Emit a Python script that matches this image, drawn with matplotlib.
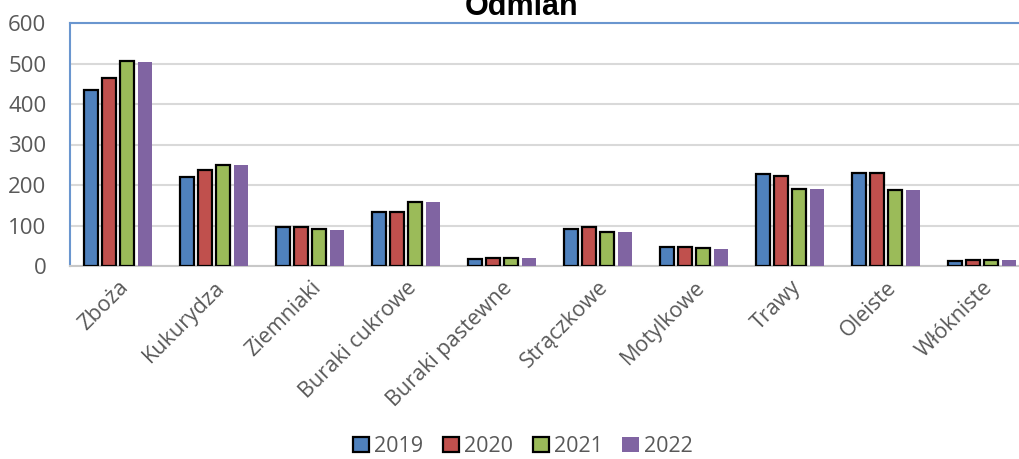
import matplotlib.pyplot as plt
import numpy as np

categories = ['Zboża', 'Kukurydza', 'Ziemniaki', 'Buraki cukrowe', 'Buraki pastewne',
              'Strączkowe', 'Motylkowe', 'Trawy', 'Oleiste', 'Włókniste']
years = ['2019', '2020', '2021', '2022']
v2019 = [434, 219, 97, 133, 18, 91, 46, 226, 230, 13]
v2020 = [464, 237, 97, 133, 19, 97, 48, 223, 229, 16]
v2021 = [506, 249, 91, 159, 20, 85, 44, 191, 188, 16]
v2022 = [504, 249, 89, 159, 20, 85, 43, 189, 188, 15]
yticks = [0, 100, 200, 300, 400, 500, 600]

colors = ['#4F81BD', '#C0504D', '#9BBB59', '#8064A2']
edges = ['black', 'black', 'black', 'none']
grey = '#595959'

fig = plt.figure(figsize=(10.19, 4.59), dpi=100)
ax = fig.add_axes([70 / 1019, 1 - 266 / 459, 960 / 1019, 243 / 459])

x = np.arange(len(categories))
pitch = 0.1875
for i, (vals, lab) in enumerate(zip([v2019, v2020, v2021, v2022], years)):
    ax.bar(x + (i - 1.5) * pitch, vals, width=0.155, color=colors[i],
           edgecolor=edges[i], linewidth=1.6, label=lab, zorder=3)

ax.set_xlim(-0.5, len(categories) - 0.5)
ax.set_ylim(0, 600)
ax.set_yticks(yticks)
ax.set_yticklabels([str(t) for t in yticks], fontsize=16, color=grey, family='Open Sans')
ax.set_xticks(x)
ax.set_xticklabels(categories, rotation=45, ha='right', rotation_mode='anchor',
                   fontsize=15.5, color=grey, family='Open Sans')
ax.tick_params(axis='y', length=0, pad=17)
ax.tick_params(axis='x', length=0, pad=8)
ax.yaxis.grid(True, color='#D9D9D9', linewidth=1.5, zorder=0)
ax.set_axisbelow(True)

for s in ['left', 'top']:
    ax.spines[s].set_color('#6A96CF')
    ax.spines[s].set_linewidth(1.5)
ax.spines['bottom'].set_color('#C8C8C8')
ax.spines['bottom'].set_linewidth(1.5)
ax.spines['right'].set_visible(False)

# title is partly outside the top edge, as in the source image
fig.text(0.512, 1 - 15 / 459, 'Odmian', ha='center', va='baseline', fontsize=22,
         fontweight='bold', family='Liberation Sans')

leg = fig.legend(loc='lower center', bbox_to_anchor=(0.513, -0.038), ncol=4, frameon=False,
                 handlelength=0.75, handleheight=0.75, handletextpad=0.25, columnspacing=0.9,
                 prop={'family': 'Open Sans', 'size': 15.5})
for t in leg.get_texts():
    t.set_color(grey)

fig.savefig('out.png', dpi=100)
